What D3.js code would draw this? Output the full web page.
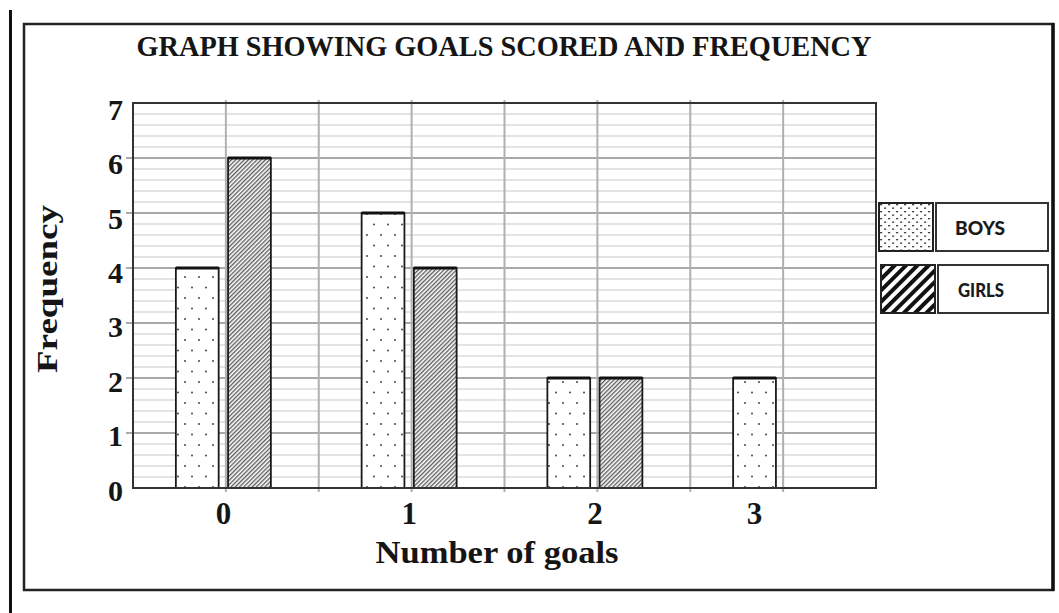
<!DOCTYPE html>
<html><head><meta charset="utf-8">
<script src="https://cdn.jsdelivr.net/npm/d3@7"></script>
<style>body{margin:0;background:#fff} svg{display:block}</style>
</head><body><svg id="c" width="1059" height="613"></svg>
<script>
// ---- data ----
const categories = ["0", "1", "2", "3"];
const seriesNames = ["BOYS", "GIRLS"];
const boys = [4, 5, 2, 2];
const girls = [6, 4, 2, 0];
const yTickLabels = [0, 1, 2, 3, 4, 5, 6, 7];
const titleText = "GRAPH SHOWING GOALS SCORED AND FREQUENCY";
const xTitleText = "Number of goals";
const yTitleText = "Frequency";

const seriesValues = { BOYS: boys, GIRLS: girls };

const svg = d3.select("#c");
const serif = "Liberation Serif";
const m = { left: 133, top: 103, right: 876, bottom: 488 };

const x = d3.scaleBand().domain(categories).range([m.left, m.right]);
const xs = d3.scaleBand().domain(seriesNames).range([-50, 45]).paddingInner(0.18);
const y = d3.scaleLinear().domain([0, 7]).range([m.bottom, m.top]);

// ---- patterns ----
const defs = svg.append("defs");
const pDots = defs.append("pattern").attr("id", "dots").attr("patternUnits", "userSpaceOnUse")
  .attr("width", 14).attr("height", 21);
pDots.append("rect").attr("width", 14).attr("height", 21).attr("fill", "#fff");
pDots.append("circle").attr("cx", 3).attr("cy", 4).attr("r", 1).attr("fill", "#444");
pDots.append("circle").attr("cx", 10).attr("cy", 14.5).attr("r", 1).attr("fill", "#444");

const pHatch = defs.append("pattern").attr("id", "hatch").attr("patternUnits", "userSpaceOnUse")
  .attr("width", 3).attr("height", 10).attr("patternTransform", "rotate(45)");
pHatch.append("rect").attr("width", 3).attr("height", 10).attr("fill", "#fff");
pHatch.append("line").attr("x1", 0.7).attr("x2", 0.7).attr("y1", 0).attr("y2", 10)
  .attr("stroke", "#555").attr("stroke-width", 1.3);

const pLegDots = defs.append("pattern").attr("id", "legdots").attr("patternUnits", "userSpaceOnUse")
  .attr("width", 8).attr("height", 7);
pLegDots.append("rect").attr("width", 8).attr("height", 7).attr("fill", "#fff");
pLegDots.append("rect").attr("x", 1).attr("y", 1).attr("width", 2.2).attr("height", 1.3).attr("fill", "#444");
pLegDots.append("rect").attr("x", 5).attr("y", 4.5).attr("width", 2.2).attr("height", 1.3).attr("fill", "#444");

const pLegHatch = defs.append("pattern").attr("id", "leghatch").attr("patternUnits", "userSpaceOnUse")
  .attr("width", 8).attr("height", 10).attr("patternTransform", "rotate(45)");
pLegHatch.append("rect").attr("width", 8).attr("height", 10).attr("fill", "#fff");
pLegHatch.append("rect").attr("x", 0).attr("y", 0).attr("width", 4).attr("height", 10).attr("fill", "#111");

const fills = { BOYS: "url(#dots)", GIRLS: "url(#hatch)" };
const legFills = { BOYS: "url(#legdots)", GIRLS: "url(#leghatch)" };

// ---- outer frame ----
svg.append("line").attr("x1", 10.5).attr("x2", 10.5).attr("y1", 10).attr("y2", 613)
  .attr("stroke", "#111").attr("stroke-width", 3);
svg.append("rect").attr("x", 24).attr("y", 24).attr("width", 1029).attr("height", 566)
  .attr("fill", "none").attr("stroke", "#222").attr("stroke-width", 2.5);
svg.append("line").attr("x1", 1053).attr("x2", 1053).attr("y1", 23).attr("y2", 591)
  .attr("stroke", "#111").attr("stroke-width", 3.5);

// ---- title ----
svg.append("text").attr("x", 504).attr("y", 56).attr("text-anchor", "middle")
  .style("font-family", serif).attr("font-weight", "bold").attr("font-size", 30)
  .attr("textLength", 735).attr("lengthAdjust", "spacingAndGlyphs")
  .attr("fill", "#151515").text(titleText);

// ---- gridlines ----
const g = svg.append("g");
const minor = d3.range(0.2, 7, 0.2).filter(v => Math.abs(v - Math.round(v)) > 0.01);
g.selectAll(".minor").data(minor).join("line")
  .attr("x1", m.left).attr("x2", m.right).attr("y1", d => y(d)).attr("y2", d => y(d))
  .attr("stroke", "#dadada").attr("stroke-width", 1.5);
g.selectAll(".major").data(yTickLabels.filter(d => d > 0 && d < 7)).join("line")
  .attr("x1", m.left - 7).attr("x2", m.right).attr("y1", d => y(d)).attr("y2", d => y(d))
  .attr("stroke", "#a9a9a9").attr("stroke-width", 2);
const vLines = [];
categories.forEach((c, i) => {
  vLines.push(x(c) + x.bandwidth() / 2);
  if (i < categories.length - 1) vLines.push(x(c) + x.bandwidth());
});
g.selectAll(".v").data(vLines).join("line")
  .attr("x1", d => d).attr("x2", d => d).attr("y1", m.top - 3).attr("y2", m.bottom + 4)
  .attr("stroke", "#b0b0b0").attr("stroke-width", 2);

// ---- bars ----
const barData = [];
categories.forEach((c, i) => seriesNames.forEach(s => {
  const v = seriesValues[s][i];
  if (v > 0) barData.push({ c, s, v });
}));
const bars = svg.append("g");
bars.selectAll("rect").data(barData).join("rect")
  .attr("x", d => x(d.c) + x.bandwidth() / 2 + xs(d.s))
  .attr("width", xs.bandwidth())
  .attr("y", d => y(d.v))
  .attr("height", d => y(0) - y(d.v))
  .attr("fill", d => fills[d.s])
  .attr("stroke", "#1a1a1a").attr("stroke-width", 1.8);
bars.selectAll("line").data(barData).join("line")
  .attr("x1", d => x(d.c) + x.bandwidth() / 2 + xs(d.s))
  .attr("x2", d => x(d.c) + x.bandwidth() / 2 + xs(d.s) + xs.bandwidth())
  .attr("y1", d => y(d.v)).attr("y2", d => y(d.v))
  .attr("stroke", "#111").attr("stroke-width", 3);

// ---- plot border ----
svg.append("rect").attr("x", m.left).attr("y", m.top)
  .attr("width", m.right - m.left).attr("height", m.bottom - m.top)
  .attr("fill", "none").attr("stroke", "#333").attr("stroke-width", 2);

// ---- y tick labels ----
svg.append("g").selectAll("text").data(yTickLabels).join("text")
  .attr("x", 123).attr("y", d => y(d) + (d === 0 ? 18 : 17) + (7 - d) * -0.7)
  .attr("text-anchor", "end")
  .style("font-family", serif).attr("font-weight", "bold").attr("font-size", 30)
  .attr("fill", "#151515").text(d => d);

// ---- x tick labels (centered under the drawn bars) ----
const labelX = c => {
  const i = categories.indexOf(c);
  const drawn = seriesNames.filter(s => seriesValues[s][i] > 0);
  const cs = drawn.map(s => x(c) + x.bandwidth() / 2 + xs(s) + xs.bandwidth() / 2);
  return d3.mean(cs);
};
svg.append("g").selectAll("text").data(categories).join("text")
  .attr("x", d => labelX(d)).attr("y", 524).attr("text-anchor", "middle")
  .style("font-family", serif).attr("font-weight", "bold").attr("font-size", 31)
  .attr("fill", "#151515").text(d => d);

// ---- axis titles ----
svg.append("text").attr("x", 497).attr("y", 563).attr("text-anchor", "middle")
  .style("font-family", serif).attr("font-weight", "bold").attr("font-size", 31)
  .attr("textLength", 243).attr("lengthAdjust", "spacingAndGlyphs")
  .attr("fill", "#151515").text(xTitleText);
svg.append("text").attr("transform", "translate(57,289) rotate(-90)").attr("text-anchor", "middle")
  .style("font-family", serif).attr("font-weight", "bold").attr("font-size", 30)
  .attr("textLength", 168).attr("lengthAdjust", "spacingAndGlyphs")
  .attr("fill", "#151515").text(yTitleText);

// ---- legend ----
const leg = svg.append("g").selectAll("g").data(seriesNames).join("g")
  .attr("transform", (d, i) => `translate(${879 + i * 2},${203 + i * 62})`);
leg.append("rect").attr("width", 54).attr("height", 48)
  .attr("fill", d => legFills[d]).attr("stroke", "#222").attr("stroke-width", 2);
leg.append("rect").attr("x", 57).attr("width", (d, i) => 112 - i * 2).attr("height", 48)
  .attr("fill", "#fff").attr("stroke", "#333").attr("stroke-width", 2);
leg.append("text").attr("x", (d, i) => 101 - i).attr("y", 32).attr("text-anchor", "middle")
  .style("font-family", "Lato, 'Open Sans', sans-serif").attr("font-weight", "900").attr("font-size", 19)
  .attr("textLength", (d, i) => i === 0 ? 50 : 46).attr("lengthAdjust", "spacingAndGlyphs")
  .attr("fill", "#1a1a1a").text(d => d);
</script>
</body></html>
